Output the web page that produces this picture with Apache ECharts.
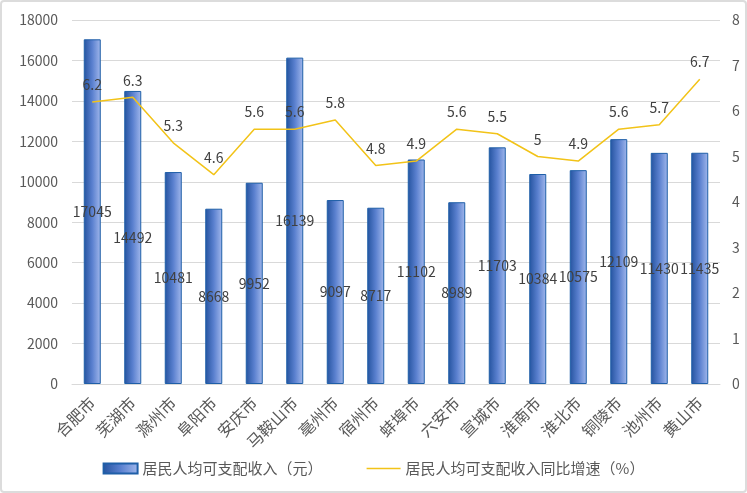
<!DOCTYPE html>
<html lang="zh">
<head>
    <meta charset="UTF-8">
    <script type="text/javascript" src="https://cdn.jsdelivr.net/npm/echarts@6/dist/echarts.min.js"></script>
    <style>
        body { margin: 0; background: #fff; }
        #main { width: 747px; height: 493px; }
    </style>
</head>
<body>
    <div id="main"></div>
    <script type="text/javascript">
        var cities = ['合肥市','芜湖市','滁州市','阜阳市','安庆市','马鞍山市','亳州市','宿州市','蚌埠市','六安市','宣城市','淮南市','淮北市','铜陵市','池州市','黄山市'];
        var income = [17045,14492,10481,8668,9952,16139,9097,8717,11102,8989,11703,10384,10575,12109,11430,11435];
        var growth = [6.2,6.3,5.3,4.6,5.6,5.6,5.8,4.8,4.9,5.6,5.5,5,4.9,5.6,5.7,6.7];

        var font = 'Noto Sans CJK SC';
        var barFill = new echarts.graphic.LinearGradient(0, 0, 1, 0, [
            {offset: 0, color: '#24539f'},
            {offset: 0.5, color: '#5a80cf'},
            {offset: 1, color: '#a2b8ec'}
        ]);

        var myChart = echarts.init(document.getElementById('main'));
        var option = {
            textStyle: {fontFamily: font},
            // 外框
            graphic: [{
                type: 'rect',
                shape: {x: 1, y: 1, width: 745, height: 491, r: 3},
                style: {fill: 'none', stroke: '#dcdcdc', lineWidth: 2},
                silent: true
            }],
            grid: {left: 72, right: 27, top: 20, bottom: 109},
            legend: {
                bottom: 12,
                itemWidth: 34,
                itemHeight: 10,
                itemGap: 44,
                textStyle: {fontSize: 15, color: '#595959', fontFamily: font},
                data: [
                    {name: '居民人均可支配收入（元）', icon: 'rect'},
                    {name: '居民人均可支配收入同比增速（%）', icon: 'path://M0,0H40V1.6H0Z'}
                ]
            },
            xAxis: {
                type: 'category',
                data: cities,
                axisLine: {lineStyle: {color: '#d9d9d9'}},
                axisTick: {show: false},
                axisLabel: {rotate: 45, fontSize: 16, color: '#595959', margin: 16, interval: 0}
            },
            yAxis: [
                {
                    type: 'value', min: 0, max: 18000, interval: 2000,
                    axisLabel: {fontSize: 14, color: '#595959', margin: 14, formatter: function (v) { return String(v); }},
                    splitLine: {lineStyle: {color: '#d9d9d9', width: 1}}
                },
                {
                    type: 'value', min: 0, max: 8, interval: 1,
                    axisLabel: {fontSize: 14, color: '#595959', margin: 12},
                    splitLine: {show: false}
                }
            ],
            series: [
                {
                    name: '居民人均可支配收入（元）',
                    type: 'bar',
                    barWidth: 17,
                    data: income,
                    itemStyle: {color: barFill, borderColor: '#1f5fa8', borderWidth: 1},
                    label: {show: true, position: 'inside', color: '#404040', fontSize: 14}
                },
                {
                    name: '居民人均可支配收入同比增速（%）',
                    type: 'line',
                    yAxisIndex: 1,
                    data: growth,
                    symbol: 'circle',
                    symbolSize: 0.1,
                    showSymbol: true,
                    lineStyle: {color: '#f2c318', width: 1.5},
                    itemStyle: {color: '#f2c318'},
                    label: {show: true, position: 'top', distance: 10, color: '#404040', fontSize: 14}
                }
            ]
        };
        myChart.setOption(option);
    </script>
</body>
</html>
